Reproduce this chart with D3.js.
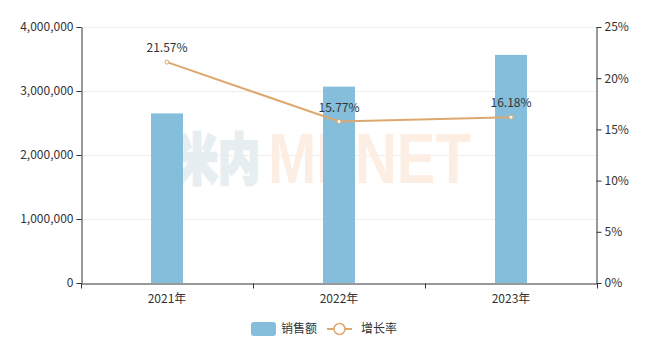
<!DOCTYPE html>
<html>
<head>
<meta charset="utf-8">
<script src="https://cdn.jsdelivr.net/npm/d3@7"></script>
<style>
  body { margin: 0; background: #fff; }
  svg { font-family: "Microsoft YaHei", "Noto Sans CJK SC", sans-serif; }
</style>
</head>
<body>
<svg width="655" height="356"></svg>
<script>
// data
const years = ["2021年", "2022年", "2023年"];
const sales = [2650000, 3068000, 3564000];
const growth = [21.57, 15.77, 16.18];
const leftTicks = [0, 1000000, 2000000, 3000000, 4000000];
const rightTicks = [0, 5, 10, 15, 20, 25];

const barColor = "#85bedb", lineColor = "#dda86e", textColor = "#333";

var svg = d3.select("svg"),
    margin = {left: 81, right: 58, top: 27, bottom: 73},
    width = +svg.attr("width"),
    height = +svg.attr("height");

let x = d3.scaleBand().domain(years).range([margin.left, width - margin.right]);
let yL = d3.scaleLinear().domain([0, 4000000]).range([height - margin.bottom, margin.top]);
let yR = d3.scaleLinear().domain([0, 25]).range([height - margin.bottom, margin.top]);

// grid
svg.append("g").selectAll("line")
  .data(leftTicks.slice(1))
  .enter().append("line")
    .attr("x1", margin.left).attr("x2", width - margin.right)
    .attr("y1", d => yL(d) + 0.5).attr("y2", d => yL(d) + 0.5)
    .attr("stroke", "#eee");

// watermark (behind the bars), stretched vertically
svg.append("text")
  .attr("transform", "translate(176,179) scale(1,1.3)")
  .style("font-size", "42px").style("font-weight", "900").style("font-family", "'Noto Sans CJK SC', sans-serif")
  .attr("fill", "#e7eef2").attr("stroke", "#e7eef2").attr("stroke-width", 2)
  .text("米内");
svg.append("text")
  .attr("transform", "translate(268,183) scale(1,1.2)")
  .style("font-size", "58px").style("font-weight", "bold")
  .style("font-family", "Arial, 'Liberation Sans', sans-serif")
  .attr("fill", "#fdeee3")
  .text("MENET");

// bars
let bw = 32;
svg.append("g").selectAll("rect")
  .data(sales)
  .enter().append("rect")
    .attr("x", (d, i) => x(years[i]) + x.bandwidth() / 2 - bw / 2)
    .attr("width", bw)
    .attr("y", d => yL(d))
    .attr("height", d => yL(0) - yL(d))
    .attr("fill", barColor);

// axes
let axL = svg.append("g").attr("transform", `translate(${margin.left + 0.5},0)`)
  .call(d3.axisLeft(yL).tickValues(leftTicks).tickFormat(d3.format(",")).tickSize(5).tickSizeOuter(0));
let axR = svg.append("g").attr("transform", `translate(${width - margin.right - 0.5},0)`)
  .call(d3.axisRight(yR).tickValues(rightTicks).tickFormat(d => d + "%").tickSize(5).tickSizeOuter(0));
let axB = svg.append("g").attr("transform", `translate(0,${height - margin.bottom + 0.5})`)
  .call(d3.axisBottom(x).tickSize(0).tickSizeOuter(0));

// band boundary ticks on bottom axis
axB.append("g").selectAll("line")
  .data(years.concat([null]))
  .enter().append("line")
    .attr("x1", (d, i) => margin.left + i * x.bandwidth() + 0.5)
    .attr("x2", (d, i) => margin.left + i * x.bandwidth() + 0.5)
    .attr("y1", 0).attr("y2", 5)
    .attr("stroke", textColor);

[axL, axR, axB].forEach(a => {
  a.selectAll("path").attr("stroke", textColor);
  a.selectAll(".tick line").attr("stroke", textColor);
  a.selectAll("text").attr("fill", textColor).style("font-size", "12px")
    .style("font-family", "'Microsoft YaHei', 'Noto Sans CJK SC', sans-serif");
});
axL.selectAll("text").attr("x", -8);
axR.selectAll("text").attr("x", 8);
axB.selectAll(".tick text").attr("y", 11);

// line
let cx = i => x(years[i]) + x.bandwidth() / 2;
svg.append("path")
  .datum(growth)
  .attr("fill", "none")
  .attr("stroke", lineColor)
  .attr("stroke-width", 2)
  .attr("d", d3.line().x((d, i) => cx(i)).y(d => yR(d)));

svg.append("g").selectAll("circle")
  .data(growth)
  .enter().append("circle")
    .attr("cx", (d, i) => cx(i)).attr("cy", d => yR(d))
    .attr("r", 2)
    .attr("fill", "#fff")
    .attr("stroke", lineColor).attr("stroke-width", 1);

svg.append("g").selectAll("text")
  .data(growth)
  .enter().append("text")
    .attr("x", (d, i) => cx(i)).attr("y", d => yR(d) - 10)
    .attr("text-anchor", "middle")
    .attr("fill", textColor)
    .style("font-size", "12px")
    .text(d => d.toFixed(2) + "%");

// legend
let lg = svg.append("g").attr("transform", "translate(0,329)");
lg.append("rect").attr("x", 251).attr("y", -7).attr("width", 25).attr("height", 14)
  .attr("rx", 3).attr("fill", barColor);
lg.append("text").attr("x", 281).attr("y", 4).attr("fill", textColor)
  .style("font-size", "12px").text("销售额");
lg.append("line").attr("x1", 327).attr("x2", 352).attr("y1", 0).attr("y2", 0)
  .attr("stroke", lineColor).attr("stroke-width", 2);
lg.append("circle").attr("cx", 339.5).attr("cy", 0).attr("r", 5.5)
  .attr("fill", "#fff").attr("stroke", lineColor).attr("stroke-width", 1.5);
lg.append("text").attr("x", 361).attr("y", 4).attr("fill", textColor)
  .style("font-size", "12px").text("增长率");
</script>
</body>
</html>
